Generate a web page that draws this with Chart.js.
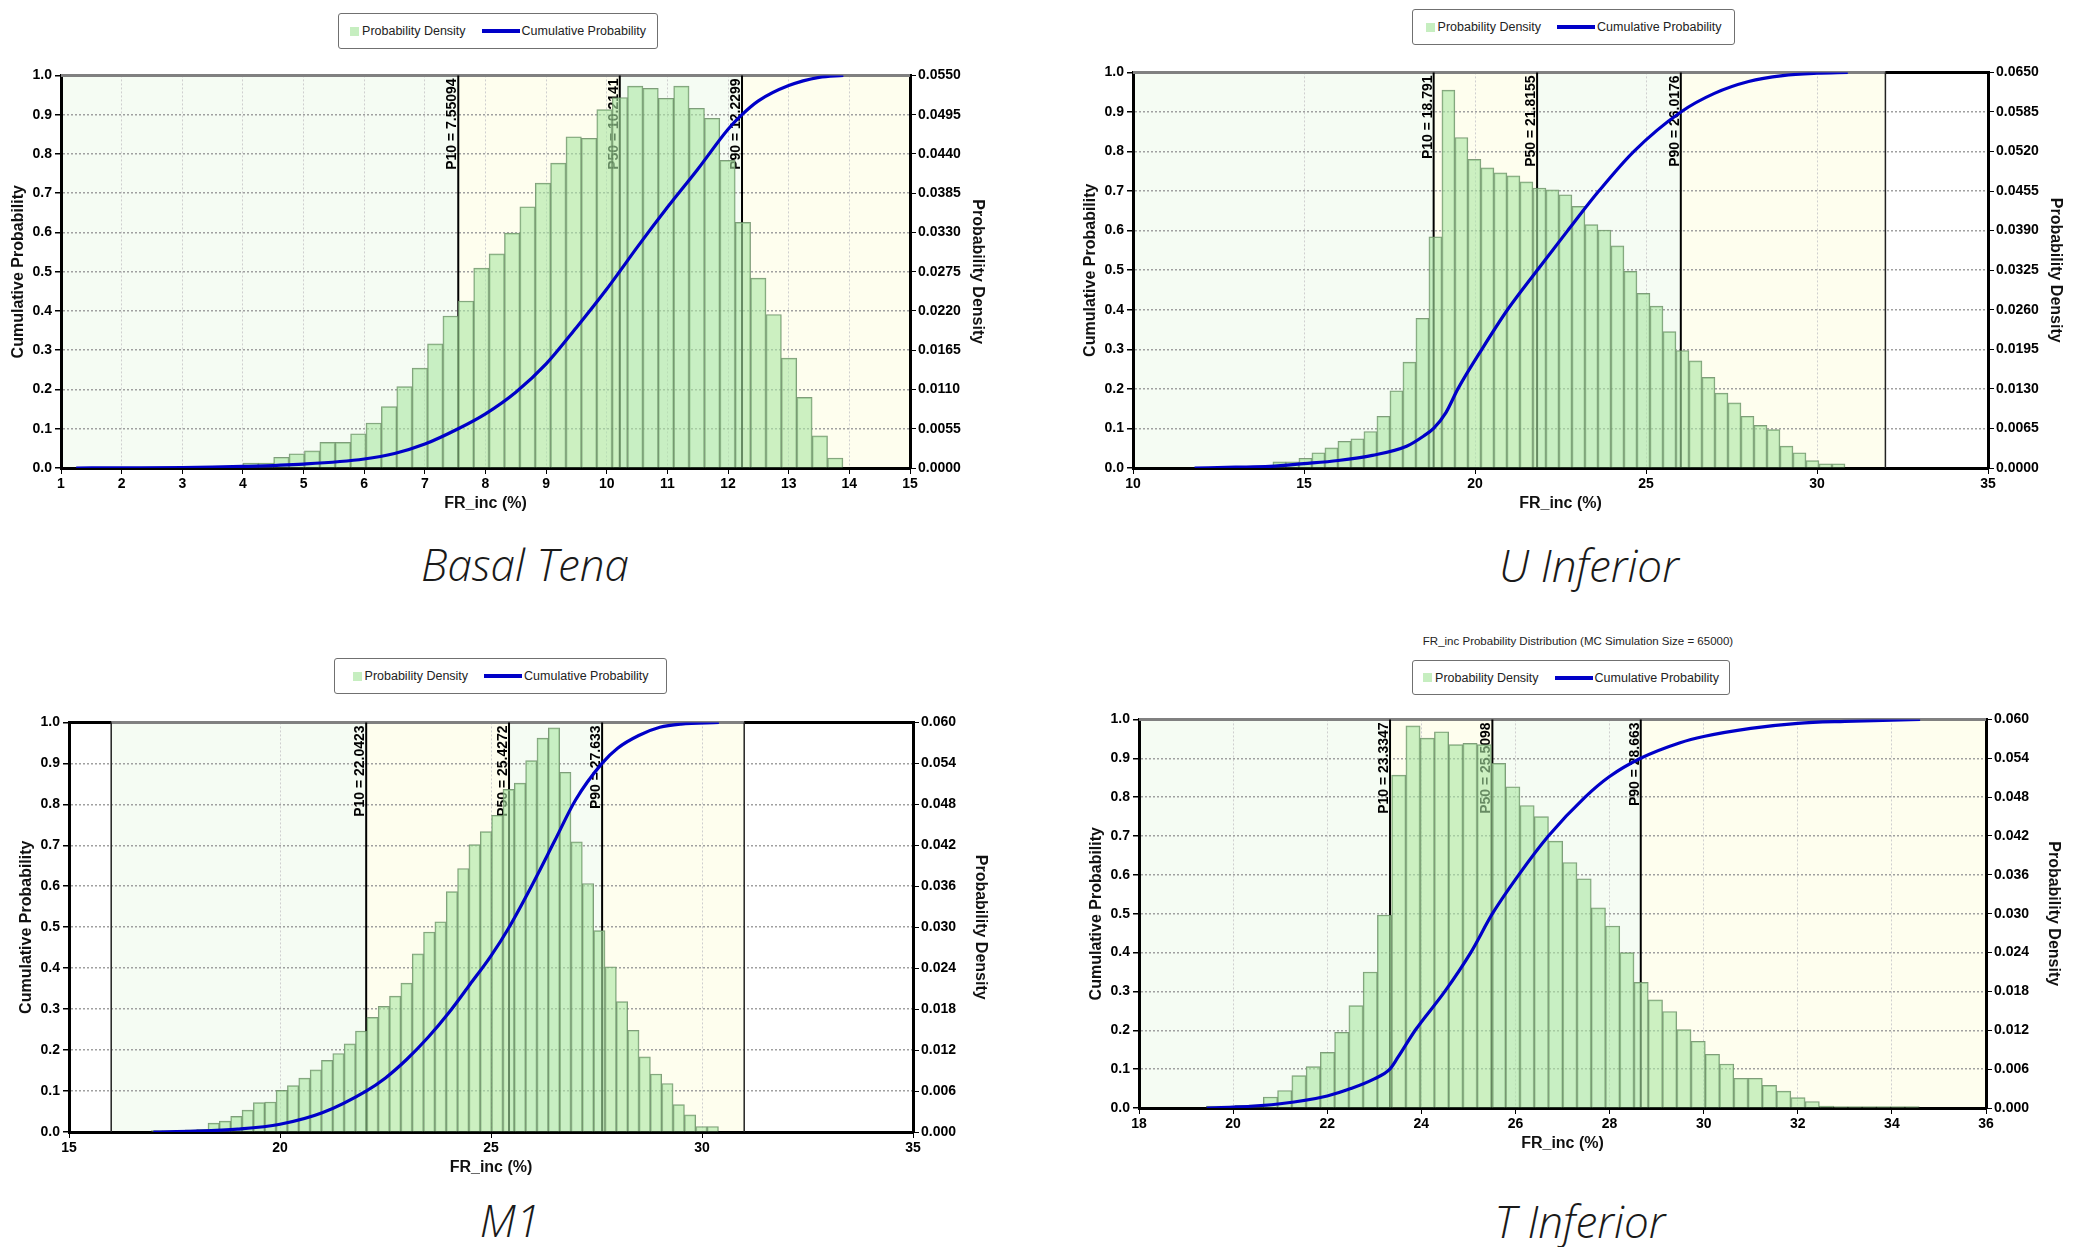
<!DOCTYPE html>
<html>
<head>
<meta charset="utf-8">
<script src="https://cdn.jsdelivr.net/npm/chart.js@4.4.0/dist/chart.umd.min.js"></script>
<style>
  html, body { margin: 0; padding: 0; background: #fff; }
  body { width: 2085px; height: 1247px; position: relative; overflow: hidden; font-family: "Liberation Sans", Arial, sans-serif; }
  canvas { position: absolute; }
  .legend { position: absolute; box-sizing: border-box; border: 1px solid #707070; border-radius: 3px; background: #fff;
            display: flex; align-items: center; justify-content: center; white-space: nowrap;
            font-family: "Liberation Sans", Arial, sans-serif; font-size: 12.5px; color: #222; }
  .legend span { flex: none; }
  .legend .sq { display: inline-block; width: 9px; height: 9px; background: #c6eec0; margin-right: 3px; }
  .legend .ln { display: inline-block; width: 38px; height: 4px; background: #0000c8; margin-left: 16px; margin-right: 2px; }
  .zone { position: absolute; transform: translate(-50%, -50%); white-space: nowrap;
          font-family: "Open Sans", Lato, sans-serif; font-style: italic; font-weight: 300; font-size: 44px; color: #1a1a1a; }
  .sub { position: absolute; transform: translate(-50%, -50%); white-space: nowrap;
         font-family: "Liberation Sans", Arial, sans-serif; font-size: 11.5px; color: #222; }
</style>
</head>
<body>

<div class="legend" style="left:338px;top:13px;width:320px;height:36px"><span class="sq"></span><span>Probability Density</span><span class="ln"></span><span>Cumulative Probability</span></div>
<div class="legend" style="left:1412px;top:9px;width:323px;height:36px"><span class="sq"></span><span>Probability Density</span><span class="ln"></span><span>Cumulative Probability</span></div>
<div class="legend" style="left:334px;top:658px;width:333px;height:36px"><span class="sq"></span><span>Probability Density</span><span class="ln"></span><span>Cumulative Probability</span></div>
<div class="sub" style="left:1578px;top:641px">FR_inc Probability Distribution (MC Simulation Size = 65000)</div>
<div class="legend" style="left:1412px;top:660px;width:318px;height:35px"><span class="sq"></span><span>Probability Density</span><span class="ln"></span><span>Cumulative Probability</span></div>

<canvas id="c1"></canvas>
<canvas id="c2"></canvas>
<canvas id="c3"></canvas>
<canvas id="c4"></canvas>

<div class="zone" style="left:525px;top:564px">Basal Tena</div>
<div class="zone" style="left:1589px;top:565px">U Inferior</div>
<div class="zone" style="left:510px;top:1220px">M1</div>
<div class="zone" style="left:1580px;top:1221px">T Inferior</div>

<script>
// ---- data ----
const leftTicks = ['0.0', '0.1', '0.2', '0.3', '0.4', '0.5', '0.6', '0.7', '0.8', '0.9', '1.0'];

// Basal Tena
const basalXTicks = [1, 2, 3, 4, 5, 6, 7, 8, 9, 10, 11, 12, 13, 14, 15];
const basalRightTicks = ['0.0000', '0.0055', '0.0110', '0.0165', '0.0220', '0.0275', '0.0330', '0.0385', '0.0440', '0.0495', '0.0550'];
const basalBinStart = 3.746;
const basalBinWidth = 0.2537;
const basalDensity = [0.0002, 0.0007, 0.0007, 0.0015, 0.0020, 0.0024, 0.0036, 0.0036, 0.0048, 0.0063,
  0.0086, 0.0114, 0.0140, 0.0174, 0.0213, 0.0234, 0.0280, 0.0300, 0.0329, 0.0366,
  0.0399, 0.0427, 0.0464, 0.0462, 0.0502, 0.0519, 0.0535, 0.0532, 0.0518, 0.0535,
  0.0504, 0.0490, 0.0431, 0.0344, 0.0266, 0.0215, 0.0154, 0.0099, 0.0045, 0.0014];
const basalCumX = [1.25, 2, 3, 4, 5, 6, 6.5, 7, 7.55, 8, 8.5, 9, 9.5, 10, 10.21, 10.5, 11, 11.5, 12, 12.23, 12.5, 13, 13.5, 13.9];
const basalCumY = [0, 0.0005, 0.001, 0.004, 0.01, 0.023, 0.037, 0.061, 0.1, 0.138, 0.193, 0.265, 0.358, 0.456, 0.5, 0.562, 0.664, 0.761, 0.863, 0.9, 0.935, 0.974, 0.995, 1.0];
const basalP = [7.55094, 10.2141, 12.2299];

// U Inferior
const uinfXTicks = [10, 15, 20, 25, 30, 35];
const uinfRightTicks = ['0.0000', '0.0065', '0.0130', '0.0195', '0.0260', '0.0325', '0.0390', '0.0455', '0.0520', '0.0585', '0.0650'];
const uinfBinStart = 14.09;
const uinfBinWidth = 0.3802;
const uinfDensity = [0.0010, 0.0010, 0.0016, 0.0025, 0.0033, 0.0044, 0.0048, 0.0060, 0.0085, 0.0127,
  0.0174, 0.0246, 0.0380, 0.0621, 0.0543, 0.0507, 0.0493, 0.0485, 0.0480, 0.0470,
  0.0460, 0.0457, 0.0449, 0.0430, 0.0400, 0.0391, 0.0365, 0.0323, 0.0287, 0.0266,
  0.0224, 0.0193, 0.0176, 0.0149, 0.0123, 0.0107, 0.0085, 0.0070, 0.0063, 0.0036,
  0.0025, 0.0012, 0.0007, 0.0007];
const uinfCumX = [11.8, 13, 14, 15, 16, 17, 18, 18.5, 18.79, 19.15, 19.5, 20.2, 20.95, 21.82, 22.71, 23.62, 24.64, 26.02, 27, 28, 29, 30, 30.9];
const uinfCumY = [0, 0.002, 0.004, 0.011, 0.019, 0.032, 0.055, 0.081, 0.1, 0.14, 0.2, 0.3, 0.4, 0.5, 0.6, 0.7, 0.8, 0.9, 0.947, 0.977, 0.992, 0.998, 1.0];
const uinfP = [18.791, 21.8155, 26.0176];

// M1
const m1XTicks = [15, 20, 25, 30, 35];
const m1RightTicks = ['0.000', '0.006', '0.012', '0.018', '0.024', '0.030', '0.036', '0.042', '0.048', '0.054', '0.060'];
const m1BinStart = 16.95;
const m1BinWidth = 0.2688;
const m1Density = [0.0002, 0.0002, 0.0002, 0.0003, 0.0004, 0.0013, 0.0016, 0.0023, 0.0032, 0.0043,
  0.0044, 0.0061, 0.0068, 0.0079, 0.0091, 0.0105, 0.0115, 0.0129, 0.0148, 0.0168,
  0.0184, 0.0199, 0.0218, 0.0261, 0.0293, 0.0308, 0.0352, 0.0386, 0.0421, 0.0440,
  0.0464, 0.0502, 0.0511, 0.0544, 0.0577, 0.0592, 0.0527, 0.0425, 0.0364, 0.0295,
  0.0242, 0.0191, 0.0149, 0.0110, 0.0085, 0.0071, 0.0040, 0.0025, 0.0008, 0.0008];
const m1CumX = [17.0, 18, 19, 20, 21, 22.04, 22.5, 23, 23.5, 24, 24.5, 25, 25.43, 26, 26.5, 27, 27.63, 28, 28.5, 29, 29.5, 30.4];
const m1CumY = [0, 0.002, 0.007, 0.019, 0.047, 0.1, 0.132, 0.177, 0.23, 0.291, 0.36, 0.43, 0.5, 0.608, 0.709, 0.81, 0.9, 0.937, 0.968, 0.988, 0.996, 1.0];
const m1P = [22.0423, 25.4272, 27.633];

// T Inferior
const tinfXTicks = [18, 20, 22, 24, 26, 28, 30, 32, 34, 36];
const tinfRightTicks = ['0.000', '0.006', '0.012', '0.018', '0.024', '0.030', '0.036', '0.042', '0.048', '0.054', '0.060'];
const tinfBinStart = 19.43;
const tinfBinWidth = 0.303;
const tinfDensity = [0.0003, 0.0003, 0.0004, 0.0005, 0.0017, 0.0027, 0.0050, 0.0064, 0.0086, 0.0117,
  0.0158, 0.0210, 0.0298, 0.0514, 0.0590, 0.0571, 0.0581, 0.0561, 0.0563, 0.0561,
  0.0532, 0.0496, 0.0467, 0.0450, 0.0412, 0.0379, 0.0354, 0.0309, 0.0281, 0.0240,
  0.0194, 0.0167, 0.0149, 0.0121, 0.0103, 0.0083, 0.0068, 0.0046, 0.0046, 0.0035,
  0.0026, 0.0016, 0.0010, 0.0003, 0.0002, 0.0002, 0.0002, 0.0002, 0.0002, 0.0002];
const tinfCumX = [19.44, 20, 21, 22, 22.5, 23, 23.33, 23.5, 23.87, 24.5, 25.05, 25.51, 26.07, 26.7, 27.48, 28.0, 28.66, 29.5, 30, 31, 32, 33, 34, 34.6];
const tinfCumY = [0, 0.002, 0.011, 0.031, 0.05, 0.075, 0.1, 0.13, 0.2, 0.3, 0.4, 0.5, 0.6, 0.7, 0.8, 0.853, 0.9, 0.94, 0.956, 0.977, 0.99, 0.995, 0.998, 1.0];
const tinfP = [23.3347, 25.5098, 28.663];

// ---- drawing ----
Chart.defaults.font.family = '"Liberation Sans", Arial, sans-serif';
const tickFont = { size: 14, weight: 'bold' };
const GREEN = 'rgb(245,252,243)';
const YELLOW = 'rgb(254,254,238)';

function makeDecor(d) {
  return {
    id: 'pdecor',
    beforeDraw(chart) {
      const { ctx, chartArea: a, scales: { x } } = chart;
      const edges = [d.shadeFrom, d.p[0], d.p[1], d.p[2], d.shadeTo];
      const fills = [GREEN, YELLOW, GREEN, YELLOW];
      ctx.save();
      for (let i = 0; i < 4; i++) {
        const x0 = x.getPixelForValue(edges[i]);
        const x1 = x.getPixelForValue(edges[i + 1]);
        ctx.fillStyle = fills[i];
        ctx.fillRect(x0, a.top, x1 - x0, a.bottom - a.top);
      }
      ctx.restore();
    },
    beforeDatasetsDraw(chart) {
      const { ctx, chartArea: a, scales: { x } } = chart;
      const s0 = x.getPixelForValue(d.shadeFrom);
      const s1 = x.getPixelForValue(d.shadeTo);
      ctx.save();
      // top edge: black outside the shaded span, grey across it
      ctx.lineWidth = 3;
      ctx.strokeStyle = '#000';
      ctx.beginPath(); ctx.moveTo(a.left, a.top); ctx.lineTo(a.right, a.top); ctx.stroke();
      ctx.strokeStyle = '#808080';
      ctx.beginPath(); ctx.moveTo(s0, a.top); ctx.lineTo(s1, a.top); ctx.stroke();
      // shaded span bounds
      ctx.lineWidth = 1.5;
      ctx.strokeStyle = '#222';
      [d.shadeFrom, d.shadeTo].forEach(v => {
        if (v > x.min && v < x.max) {
          const px = x.getPixelForValue(v);
          ctx.beginPath(); ctx.moveTo(px, a.top); ctx.lineTo(px, a.bottom); ctx.stroke();
        }
      });
      // P10 / P50 / P90
      ctx.lineWidth = 2;
      ctx.strokeStyle = '#000';
      ctx.fillStyle = '#000';
      ctx.font = 'bold 14px "Liberation Sans", Arial, sans-serif';
      ['P10', 'P50', 'P90'].forEach((name, i) => {
        const px = x.getPixelForValue(d.p[i]);
        ctx.beginPath(); ctx.moveTo(px, a.top); ctx.lineTo(px, a.bottom); ctx.stroke();
        ctx.save();
        ctx.translate(px - 2, a.top + 3);
        ctx.rotate(-Math.PI / 2);
        ctx.textAlign = 'right';
        ctx.textBaseline = 'alphabetic';
        ctx.fillText(name + ' = ' + d.p[i], 0, 0);
        ctx.restore();
      });
      ctx.restore();
    }
  };
}

function buildChart(id, g, d) {
  const padTop = 10, leftW = 60, rightW = 85, bottomH = 50;
  const cv = document.getElementById(id);
  cv.width = g.r - g.l + leftW + rightW;
  cv.height = g.b - g.t + padTop + bottomH;
  cv.style.left = (g.l - leftW) + 'px';
  cv.style.top = (g.t - padTop) + 'px';
  const leftVals = leftTicks.map(Number);
  const rightVals = d.rightTicks.map(Number);

  new Chart(cv, {
    type: 'bar',
    data: {
      datasets: [
        {
          type: 'line',
          label: 'Cumulative Probability',
          data: d.cumX.map((x, i) => ({ x: x, y: d.cumY[i] })),
          yAxisID: 'yL',
          borderColor: '#0000c8',
          borderWidth: 3.2,
          pointRadius: 0,
          cubicInterpolationMode: 'monotone',
          fill: false,
          order: 0
        },
        {
          type: 'bar',
          label: 'Probability Density',
          data: d.density.map((v, i) => ({ x: d.binStart + (i + 0.5) * d.binWidth, y: v })),
          yAxisID: 'yR',
          backgroundColor: 'rgba(170,230,163,0.6)',
          borderColor: 'rgba(105,140,100,0.85)',
          borderWidth: 1,
          barPercentage: 1,
          categoryPercentage: 1,
          order: 1
        }
      ]
    },
    options: {
      responsive: false,
      animation: false,
      events: [],
      layout: { padding: { top: padTop, left: 0, right: 0, bottom: 0 } },
      plugins: { legend: { display: false }, tooltip: { enabled: false } },
      scales: {
        x: {
          type: 'linear', position: 'bottom', min: d.xMin, max: d.xMax, offset: false,
          afterBuildTicks: s => { s.ticks = d.xTicks.map(v => ({ value: v })); },
          afterFit: s => { s.height = bottomH; },
          ticks: { font: tickFont, color: '#000', padding: 2, maxRotation: 0, autoSkip: false },
          grid: { color: '#cfcfcf', lineWidth: 1, tickColor: '#000', tickLength: 6, offset: false },
          border: { color: '#000', width: 3, dash: [2, 2] },
          title: { display: true, text: 'FR_inc (%)', color: '#111', font: { size: 16, weight: 'bold' }, padding: { top: 0, bottom: 5 } }
        },
        yL: {
          type: 'linear', position: 'left', min: 0, max: 1,
          afterBuildTicks: s => { s.ticks = leftVals.map(v => ({ value: v })); },
          afterFit: s => { s.width = leftW; },
          ticks: { font: tickFont, color: '#000', padding: 3, callback: (v, i) => leftTicks[i] },
          grid: { color: '#a0a0a0', lineWidth: 1.5, tickColor: '#000', tickLength: 6 },
          border: { color: '#000', width: 3, dash: [2, 2] },
          title: { display: true, text: 'Cumulative Probability', color: '#111', font: { size: 16, weight: 'bold' }, padding: { top: 8, bottom: 0 } }
        },
        yR: {
          type: 'linear', position: 'right', min: 0, max: rightVals[rightVals.length - 1],
          afterBuildTicks: s => { s.ticks = rightVals.map(v => ({ value: v })); },
          afterFit: s => { s.width = rightW; },
          ticks: { font: tickFont, color: '#000', padding: 2, callback: (v, i) => d.rightTicks[i] },
          grid: { drawOnChartArea: false, tickColor: '#000', tickLength: 6 },
          border: { color: '#000', width: 3 },
          title: { display: true, text: 'Probability Density', color: '#111', font: { size: 16, weight: 'bold' }, padding: { top: 8, bottom: 0 } }
        }
      }
    },
    plugins: [makeDecor(d)]
  });
}

buildChart('c1', { l: 61, r: 910, t: 74, b: 468 }, {
  xMin: 1, xMax: 15, xTicks: basalXTicks, rightTicks: basalRightTicks,
  binStart: basalBinStart, binWidth: basalBinWidth, density: basalDensity,
  cumX: basalCumX, cumY: basalCumY, p: basalP, shadeFrom: 1, shadeTo: 15
});
buildChart('c2', { l: 1133, r: 1988, t: 71, b: 468 }, {
  xMin: 10, xMax: 35, xTicks: uinfXTicks, rightTicks: uinfRightTicks,
  binStart: uinfBinStart, binWidth: uinfBinWidth, density: uinfDensity,
  cumX: uinfCumX, cumY: uinfCumY, p: uinfP, shadeFrom: 10, shadeTo: 32
});
buildChart('c3', { l: 69, r: 913, t: 721, b: 1132 }, {
  xMin: 15, xMax: 35, xTicks: m1XTicks, rightTicks: m1RightTicks,
  binStart: m1BinStart, binWidth: m1BinWidth, density: m1Density,
  cumX: m1CumX, cumY: m1CumY, p: m1P, shadeFrom: 16, shadeTo: 31
});
buildChart('c4', { l: 1139, r: 1986, t: 718, b: 1108 }, {
  xMin: 18, xMax: 36, xTicks: tinfXTicks, rightTicks: tinfRightTicks,
  binStart: tinfBinStart, binWidth: tinfBinWidth, density: tinfDensity,
  cumX: tinfCumX, cumY: tinfCumY, p: tinfP, shadeFrom: 18, shadeTo: 36
});
</script>
</body>
</html>
